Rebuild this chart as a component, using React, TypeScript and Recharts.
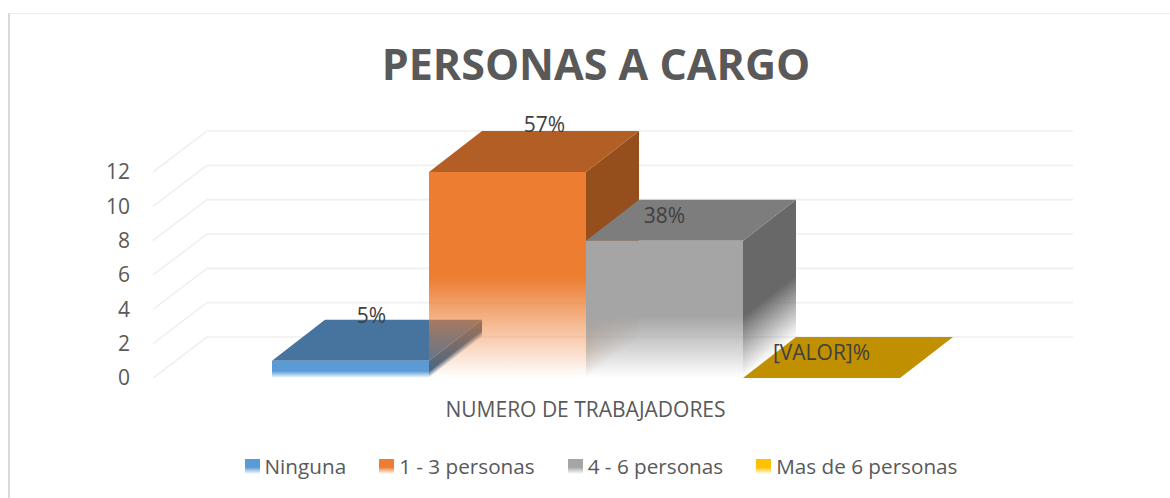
import { BarChart, Bar, XAxis, YAxis, CartesianGrid, Legend } from 'recharts'

const category = 'NUMERO DE TRABAJADORES'
const seriesNames = ['Ninguna', '1 - 3 personas', '4 - 6 personas', 'Mas de 6 personas']
const seriesValues = [1, 12, 8, 0]
const dataLabels = ['5%', '57%', '38%', '[VALOR]%']
const yTicks = [0, 2, 4, 6, 8, 10, 12]

const frontColors = ['#5b9bd5', '#ed7d31', '#a5a5a5', '#ffc000']
const topColors = ['#47749f', '#b25e25', '#7d7d7d', '#c09000']
const sideColors = ['#3d6488', '#954f1d', '#686868', '#a67c00']
// where the front face starts fading out, as a share of its height
const fadeStarts = [0.6, 0.51, 0.55, 0.55]
// hand placed labels, relative to the front top centre of each bar
const labelOffsets = [
  [21, -46],
  [37, -48],
  [0, -26],
  [0, -26],
]

const FONT = '"Open Sans", sans-serif'
const TEXT = '#595959'
const DEPTH_X = 53
const DEPTH_Y = 41
const GRID = '#f0f0f0'

const chartData = [
  Object.fromEntries([['name', category], ...seriesNames.map((n, i) => [n, seriesValues[i]])]),
]

function Box3D(props: any) {
  const { x, y, width, height, seriesIndex: i } = props
  const bottom = y + height
  const right = x + width
  const fadeY = y + height * fadeStarts[i]
  // side face fades along the depth direction, so the gradient runs across it
  const k = ((bottom - fadeY) * DEPTH_X) / (DEPTH_X * DEPTH_X + DEPTH_Y * DEPTH_Y)
  return (
    <g>
      <defs>
        <linearGradient id={`front-${i}`} gradientUnits="userSpaceOnUse" x1={0} x2={0} y1={fadeY} y2={bottom}>
          <stop offset="0" stopColor={frontColors[i]} stopOpacity={1} />
          <stop offset="1" stopColor={frontColors[i]} stopOpacity={0} />
        </linearGradient>
        <linearGradient
          id={`side-${i}`}
          gradientUnits="userSpaceOnUse"
          x1={right}
          y1={fadeY}
          x2={right + DEPTH_Y * k}
          y2={fadeY + DEPTH_X * k}
        >
          <stop offset="0" stopColor={sideColors[i]} stopOpacity={1} />
          <stop offset="1" stopColor={sideColors[i]} stopOpacity={0} />
        </linearGradient>
      </defs>
      <path
        d={`M${right},${y}L${right + DEPTH_X},${y - DEPTH_Y}L${right + DEPTH_X},${bottom - DEPTH_Y}L${right},${bottom}Z`}
        fill={`url(#side-${i})`}
      />
      <path
        d={`M${x},${y}L${x + DEPTH_X},${y - DEPTH_Y}L${right + DEPTH_X},${y - DEPTH_Y}L${right},${y}Z`}
        fill={topColors[i]}
      />
      <rect x={x} y={y} width={width} height={height} fill={`url(#front-${i})`} />
    </g>
  )
}

function GridLine(props: any) {
  const { x1, y1, x2 } = props
  return (
    <path
      d={`M${x1 + 1},${y1}L${x1 + DEPTH_X + 2},${y1 - DEPTH_Y}L${x2 + DEPTH_X + 1},${y1 - DEPTH_Y}`}
      fill="none"
      stroke={GRID}
      strokeWidth={1.6}
    />
  )
}

function BarLabel(props: any) {
  const { x, y, width, seriesIndex: i } = props
  return (
    <text
      x={x + width / 2 + labelOffsets[i][0]}
      y={y + labelOffsets[i][1]}
      textAnchor="middle"
      dominantBaseline="central"
      fontFamily={FONT}
      fontSize={21}
      fill="#404040"
    >
      {dataLabels[i]}
    </text>
  )
}

function LegendRow({ payload }: any) {
  return (
    <div
      style={{
        display: 'flex',
        justifyContent: 'center',
        gap: 33,
        paddingLeft: 91,
        fontFamily: FONT,
        fontSize: 20.7,
        color: TEXT,
      }}
    >
      {(payload || []).map((item: any) => (
        <div key={item.value} style={{ display: 'flex', alignItems: 'center' }}>
          <span
            style={{
              width: 15,
              height: 15,
              marginRight: 5,
              background: `linear-gradient(${item.color} 55%, #ffffff)`,
            }}
          />
          {item.value}
        </div>
      ))}
    </div>
  )
}

export default function App() {
  return (
    <div style={{ position: 'absolute', left: 0, top: 0, width: 1170, height: 498, overflow: 'hidden' }}>
      <div
        style={{
          position: 'absolute',
          left: 8,
          top: 13,
          right: 0,
          bottom: 0,
          borderLeft: '2px solid #d9d9d9',
          borderTop: '1px solid #eeeeee',
        }}
      />
      <BarChart
        width={1170}
        height={498}
        data={chartData}
        margin={{ top: 172, right: 151, bottom: 6, left: 92 }}
        barCategoryGap={0}
        barGap={0}
        barSize={157}
        style={{ position: 'absolute', left: 0, top: 0 }}
      >
        <text
          x={596}
          y={63}
          textAnchor="middle"
          dominantBaseline="central"
          fontFamily={FONT}
          fontWeight={700}
          fontSize={43}
          fill={TEXT}
        >
          PERSONAS A CARGO
        </text>
        <CartesianGrid vertical={false} horizontal={(p: any) => <GridLine key={p.y1} {...p} />} />
        <XAxis
          dataKey="name"
          height={74}
          axisLine={false}
          tickLine={false}
          tickMargin={18}
          tick={{ fill: TEXT, fontFamily: FONT, fontSize: 21 }}
        />
        <YAxis
          width={60}
          domain={[0, 12]}
          ticks={yTicks}
          axisLine={false}
          tickLine={false}
          tickMargin={16}
          tick={{ fill: TEXT, fontFamily: FONT, fontSize: 21 }}
        />
        <Legend verticalAlign="bottom" height={40} itemSorter={null} content={<LegendRow />} />
        {seriesNames.map((name, i) => (
          <Bar
            key={name}
            dataKey={name}
            fill={frontColors[i]}
            isAnimationActive={false}
            shape={(p: any) => <Box3D {...p} seriesIndex={i} />}
            label={(p: any) => <BarLabel {...p} seriesIndex={i} />}
          />
        ))}
      </BarChart>
    </div>
  )
}
